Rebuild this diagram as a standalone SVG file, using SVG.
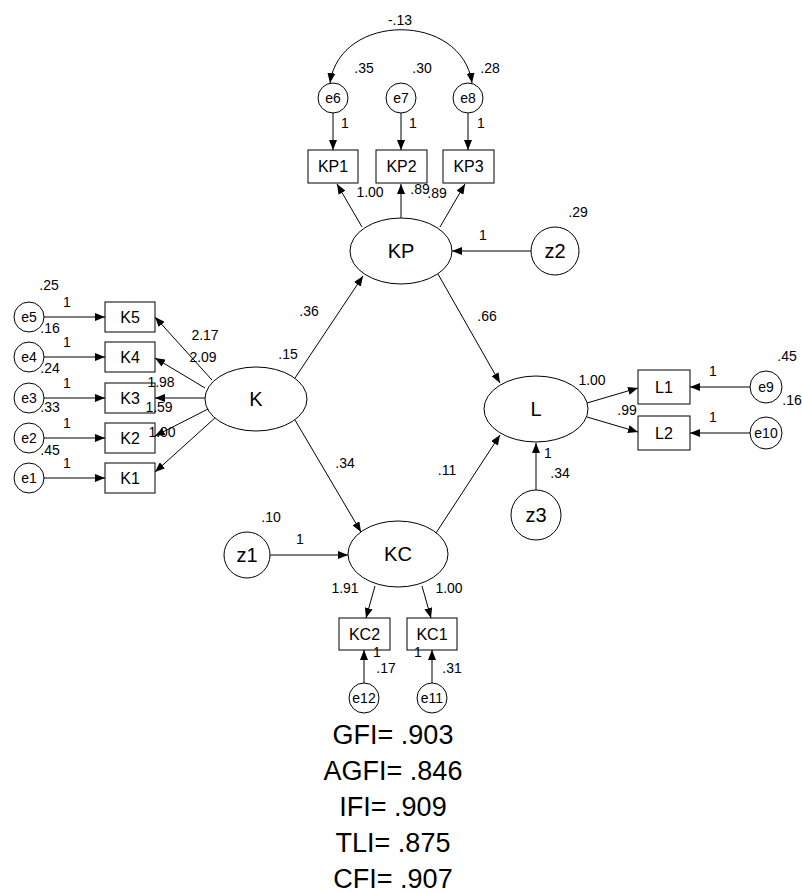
<svg xmlns="http://www.w3.org/2000/svg" width="802" height="893" viewBox="0 0 802 893">
<style>
.sh{fill:#fff;stroke:#000;stroke-width:1}
.ln{fill:none;stroke:#000;stroke-width:1}
text{font-family:"Liberation Sans",Arial,sans-serif;fill:#000;text-anchor:middle;dominant-baseline:central}
.lbl{font-size:14px}
.bx{font-size:16px}
.sm{font-size:14px}
.big{font-size:20px}
.fit{font-size:27px}
</style>
<defs>
<marker id="ah" viewBox="0 0 10 8" refX="10" refY="4" markerWidth="10" markerHeight="8" markerUnits="userSpaceOnUse" orient="auto-start-reverse">
<path d="M0,0 L10,4 L0,8 z" fill="#000"/>
</marker>
</defs>
<rect width="802" height="893" fill="#fff"/>
<g id="connectors">
<path class="ln" d="M330,83 C340,12 462,12 472,83" marker-start="url(#ah)" marker-end="url(#ah)"/>
<line class="ln" x1="333" y1="113" x2="333" y2="150" marker-end="url(#ah)"/>
<line class="ln" x1="401" y1="113" x2="401" y2="150" marker-end="url(#ah)"/>
<line class="ln" x1="468" y1="113" x2="468" y2="150" marker-end="url(#ah)"/>
<line class="ln" x1="362" y1="227" x2="337" y2="184" marker-end="url(#ah)"/>
<line class="ln" x1="401" y1="218" x2="401" y2="184" marker-end="url(#ah)"/>
<line class="ln" x1="440" y1="227" x2="465" y2="184" marker-end="url(#ah)"/>
<line class="ln" x1="531" y1="251" x2="452" y2="251" marker-end="url(#ah)"/>
<line class="ln" x1="295" y1="378" x2="363" y2="276" marker-end="url(#ah)"/>
<line class="ln" x1="438" y1="274" x2="500" y2="383" marker-end="url(#ah)"/>
<line class="ln" x1="295" y1="420" x2="361" y2="532" marker-end="url(#ah)"/>
<line class="ln" x1="436" y1="533" x2="500" y2="435" marker-end="url(#ah)"/>
<line class="ln" x1="212" y1="380" x2="155" y2="317" marker-end="url(#ah)"/>
<line class="ln" x1="205" y1="388" x2="155" y2="358" marker-end="url(#ah)"/>
<line class="ln" x1="205" y1="398" x2="155" y2="398" marker-end="url(#ah)"/>
<line class="ln" x1="210" y1="408" x2="155" y2="436" marker-end="url(#ah)"/>
<line class="ln" x1="216" y1="417" x2="155" y2="472" marker-end="url(#ah)"/>
<line class="ln" x1="44" y1="317" x2="105" y2="317" marker-end="url(#ah)"/>
<line class="ln" x1="44" y1="357" x2="105" y2="357" marker-end="url(#ah)"/>
<line class="ln" x1="44" y1="398" x2="105" y2="398" marker-end="url(#ah)"/>
<line class="ln" x1="44" y1="438" x2="105" y2="438" marker-end="url(#ah)"/>
<line class="ln" x1="44" y1="478" x2="105" y2="478" marker-end="url(#ah)"/>
<line class="ln" x1="587" y1="403" x2="638" y2="388" marker-end="url(#ah)"/>
<line class="ln" x1="587" y1="417" x2="638" y2="432" marker-end="url(#ah)"/>
<line class="ln" x1="750" y1="387" x2="690" y2="387" marker-end="url(#ah)"/>
<line class="ln" x1="750" y1="433" x2="690" y2="433" marker-end="url(#ah)"/>
<line class="ln" x1="536" y1="490" x2="536" y2="443" marker-end="url(#ah)"/>
<line class="ln" x1="270" y1="555" x2="348" y2="555" marker-end="url(#ah)"/>
<line class="ln" x1="375" y1="586" x2="366" y2="618" marker-end="url(#ah)"/>
<line class="ln" x1="422" y1="586" x2="431" y2="618" marker-end="url(#ah)"/>
<line class="ln" x1="364" y1="683" x2="364" y2="650" marker-end="url(#ah)"/>
<line class="ln" x1="432" y1="683" x2="432" y2="650" marker-end="url(#ah)"/>
</g>
<g id="e6"><circle class="sh" cx="333" cy="98" r="15"/><text class="sm" x="333" y="98">e6</text></g>
<g id="e7"><circle class="sh" cx="401" cy="98" r="15"/><text class="sm" x="401" y="98">e7</text></g>
<g id="e8"><circle class="sh" cx="468" cy="98" r="15"/><text class="sm" x="468" y="98">e8</text></g>
<g id="KP1"><rect class="sh" x="308" y="150" width="50" height="33"/><text class="bx" x="333" y="166.5">KP1</text></g>
<g id="KP2"><rect class="sh" x="376" y="150" width="51" height="33"/><text class="bx" x="401.5" y="166.5">KP2</text></g>
<g id="KP3"><rect class="sh" x="443" y="150" width="51" height="33"/><text class="bx" x="468.5" y="166.5">KP3</text></g>
<g id="KP"><ellipse class="sh" cx="401" cy="251" rx="51" ry="33"/><text class="big" x="401" y="251">KP</text></g>
<g id="z2"><circle class="sh" cx="555" cy="251" r="24"/><text class="big" x="555" y="251">z2</text></g>
<g id="K"><ellipse class="sh" cx="256" cy="399" rx="51" ry="32"/><text class="big" x="256" y="399">K</text></g>
<g id="L"><ellipse class="sh" cx="536" cy="409" rx="52" ry="33"/><text class="big" x="536" y="409">L</text></g>
<g id="KC"><ellipse class="sh" cx="398" cy="554" rx="50" ry="33"/><text class="big" x="398" y="554">KC</text></g>
<g id="z1"><circle class="sh" cx="247" cy="555" r="23"/><text class="big" x="247" y="555">z1</text></g>
<g id="z3"><circle class="sh" cx="536" cy="515" r="25"/><text class="big" x="536" y="515">z3</text></g>
<g id="K5"><rect class="sh" x="105" y="302" width="50" height="30"/><text class="bx" x="130" y="317">K5</text></g>
<g id="K4"><rect class="sh" x="105" y="342" width="50" height="30"/><text class="bx" x="130" y="357">K4</text></g>
<g id="K3"><rect class="sh" x="105" y="383" width="50" height="30"/><text class="bx" x="130" y="398">K3</text></g>
<g id="K2"><rect class="sh" x="105" y="423" width="50" height="30"/><text class="bx" x="130" y="438">K2</text></g>
<g id="K1"><rect class="sh" x="105" y="463" width="50" height="30"/><text class="bx" x="130" y="478">K1</text></g>
<g id="e5"><circle class="sh" cx="29" cy="317" r="15"/><text class="sm" x="29" y="317">e5</text></g>
<g id="e4"><circle class="sh" cx="29" cy="357" r="15"/><text class="sm" x="29" y="357">e4</text></g>
<g id="e3"><circle class="sh" cx="29" cy="398" r="15"/><text class="sm" x="29" y="398">e3</text></g>
<g id="e2"><circle class="sh" cx="29" cy="438" r="15"/><text class="sm" x="29" y="438">e2</text></g>
<g id="e1"><circle class="sh" cx="29" cy="478" r="15"/><text class="sm" x="29" y="478">e1</text></g>
<g id="L1"><rect class="sh" x="638" y="370" width="52" height="34"/><text class="bx" x="664" y="387">L1</text></g>
<g id="L2"><rect class="sh" x="638" y="416" width="52" height="34"/><text class="bx" x="664" y="433">L2</text></g>
<g id="e9"><circle class="sh" cx="766" cy="387" r="16"/><text class="sm" x="766" y="387">e9</text></g>
<g id="e10"><circle class="sh" cx="766" cy="433" r="16"/><text class="sm" x="766" y="433">e10</text></g>
<g id="KC2"><rect class="sh" x="339" y="618" width="51" height="32"/><text class="bx" x="364.5" y="634">KC2</text></g>
<g id="KC1"><rect class="sh" x="407" y="618" width="50" height="32"/><text class="bx" x="432" y="634">KC1</text></g>
<g id="e12"><circle class="sh" cx="364" cy="698" r="15"/><text class="sm" x="364" y="698">e12</text></g>
<g id="e11"><circle class="sh" cx="432" cy="698" r="15"/><text class="sm" x="432" y="698">e11</text></g>
<g id="labels">
<text class="lbl" x="400" y="20">-.13</text>
<text class="lbl" x="364" y="68">.35</text>
<text class="lbl" x="422" y="68">.30</text>
<text class="lbl" x="490" y="68">.28</text>
<text class="lbl" x="345" y="123">1</text>
<text class="lbl" x="413" y="123">1</text>
<text class="lbl" x="481" y="123">1</text>
<text class="lbl" x="370" y="192">1.00</text>
<text class="lbl" x="420" y="189">.89</text>
<text class="lbl" x="437" y="193">.89</text>
<text class="lbl" x="578" y="212">.29</text>
<text class="lbl" x="483" y="235">1</text>
<text class="lbl" x="309" y="311">.36</text>
<text class="lbl" x="288" y="354">.15</text>
<text class="lbl" x="487" y="316">.66</text>
<text class="lbl" x="345" y="463">.34</text>
<text class="lbl" x="447" y="470">.11</text>
<text class="lbl" x="49" y="285">.25</text>
<text class="lbl" x="67" y="302">1</text>
<text class="lbl" x="50" y="328">.16</text>
<text class="lbl" x="67" y="342">1</text>
<text class="lbl" x="50" y="368">.24</text>
<text class="lbl" x="67" y="383">1</text>
<text class="lbl" x="50" y="407">.33</text>
<text class="lbl" x="67" y="423">1</text>
<text class="lbl" x="50" y="450">.45</text>
<text class="lbl" x="67" y="463">1</text>
<text class="lbl" x="205" y="335">2.17</text>
<text class="lbl" x="203" y="357">2.09</text>
<text class="lbl" x="161" y="382">1.98</text>
<text class="lbl" x="159" y="407">1.59</text>
<text class="lbl" x="162" y="432">1.00</text>
<text class="lbl" x="592" y="380">1.00</text>
<text class="lbl" x="627" y="410">.99</text>
<text class="lbl" x="713" y="371">1</text>
<text class="lbl" x="713" y="417">1</text>
<text class="lbl" x="787" y="356">.45</text>
<text class="lbl" x="792" y="400">.16</text>
<text class="lbl" x="548" y="453">1</text>
<text class="lbl" x="560" y="473">.34</text>
<text class="lbl" x="271" y="517">.10</text>
<text class="lbl" x="300" y="539">1</text>
<text class="lbl" x="345" y="588">1.91</text>
<text class="lbl" x="449" y="588">1.00</text>
<text class="lbl" x="377" y="652">1</text>
<text class="lbl" x="386" y="668">.17</text>
<text class="lbl" x="418" y="652">1</text>
<text class="lbl" x="452" y="668">.31</text>
</g>
<g id="fit">
<text class="fit" x="393" y="735">GFI= .903</text>
<text class="fit" x="393" y="771">AGFI= .846</text>
<text class="fit" x="393" y="807">IFI= .909</text>
<text class="fit" x="393" y="843">TLI= .875</text>
<text class="fit" x="393" y="879">CFI= .907</text>
</g>
</svg>
